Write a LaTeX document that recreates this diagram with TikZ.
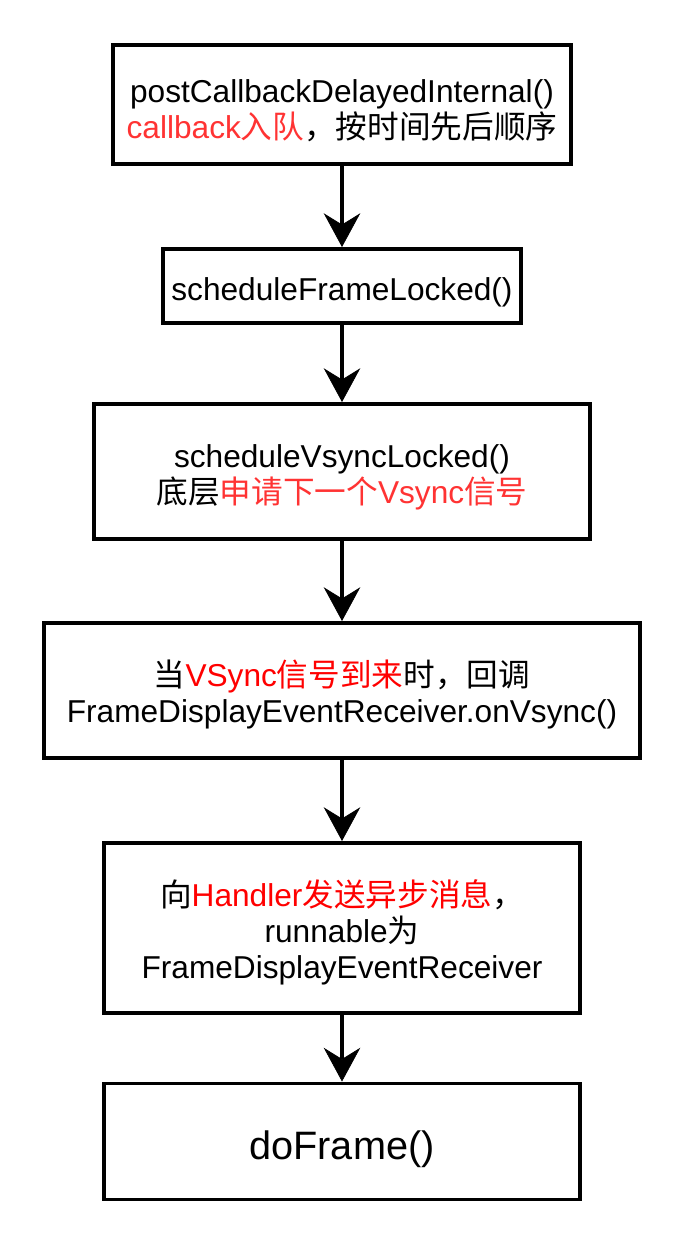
\documentclass[tikz,border=0pt]{standalone}
\usepackage{fontspec}
\setmainfont{Liberation Sans}
\newfontfamily\cjk{Noto Sans CJK SC}
\usetikzlibrary{arrows.meta}
\definecolor{hired}{HTML}{FF0000}
\definecolor{softred}{HTML}{FF3333}
\newcommand{\zh}[1]{{\cjk #1}}
\newcommand{\topfix}{\rule{0pt}{25pt}}
\tikzset{
    stepbox/.style={draw, line width=2.8pt, align=center, inner sep=0pt,
      font=\fontsize{22.5}{25.6}\selectfont},
    flow/.style={line width=2.8pt, -{Stealth[length=24pt,width=26pt,inset=8pt,line width=0.5pt]}}
}

\begin{document}
\begin{tikzpicture}[x=0.025cm,y=-0.025cm]
\useasboundingbox (0,0) rectangle (684,1244);
\node[stepbox,minimum width=11.425cm,minimum height=2.975cm] (post) at (342,104.5)
  {\topfix postCallbackDelayedInternal()\\\textcolor{softred}{callback\zh{入队}}\zh{，按时间先后顺序}};
\node[stepbox,minimum width=8.925cm,minimum height=1.85cm] (frame) at (342,286)
  {\topfix scheduleFrameLocked()};
\node[stepbox,minimum width=12.4cm,minimum height=3.375cm] (vsync) at (342,471.5)
  {\topfix scheduleVsyncLocked()\\\zh{底层}\textcolor{softred}{\zh{申请下一个}Vsync\zh{信号}}};
\node[stepbox,minimum width=14.9cm,minimum height=3.375cm] (recv) at (342,690.5)
  {\topfix\zh{当}\textcolor{hired}{VSync\zh{信号到来}}\zh{时，回调}\\FrameDisplayEventReceiver.onVsync()};
\node[stepbox,minimum width=11.9cm,minimum height=4.25cm] (msg) at (342,928)
  {\topfix\zh{向}\textcolor{hired}{Handler\zh{发送异步消息}}\zh{，}\\runnable\zh{为}\\FrameDisplayEventReceiver};
\node[stepbox,minimum width=11.9cm,minimum height=2.9cm,font=\fontsize{28.2}{32}\selectfont] (doframe) at (342,1141.5)
  {\rule{0pt}{31pt}doFrame()};
\draw[flow] (post) -- (frame);
\draw[flow] (frame) -- (vsync);
\draw[flow] (vsync) -- (recv);
\draw[flow] (recv) -- (msg);
\draw[flow] (msg) -- (doframe);
\end{tikzpicture}
\end{document}
